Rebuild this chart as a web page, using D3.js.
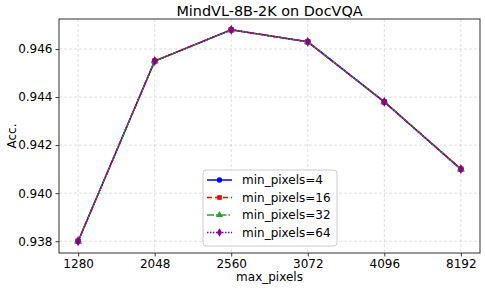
<!DOCTYPE html>
<meta charset="utf-8">
<head>
    <title>MindVL-8B-2K on DocVQA</title>
    <style>
        html, body { margin: 0; padding: 0; background: #fff; }
        body { font-family: "DejaVu Sans", sans-serif; }
        .grid line { stroke: #b0b0b0; stroke-opacity: 0.5; stroke-dasharray: 3,2; stroke-width: 0.8; }
        .axis path, .axis line { stroke: #333; }
        .axis text { font-family: "DejaVu Sans", sans-serif; font-size: 12px; fill: #000; }
    </style>
</head>
<body>
    <svg id="chart" width="485" height="289"></svg>
    <script src="https://cdn.jsdelivr.net/npm/d3@7"></script>
    <script>
        const maxPixels = ['1280', '2048', '2560', '3072', '4096', '8192'];
        const yTicks = [0.938, 0.940, 0.942, 0.944, 0.946];

        const accMin4  = [0.9380, 0.9455, 0.9468, 0.9463, 0.9438, 0.9410];
        const accMin16 = [0.9380, 0.9455, 0.9468, 0.9463, 0.9438, 0.9410];
        const accMin32 = [0.9380, 0.9455, 0.9468, 0.9463, 0.9438, 0.9410];
        const accMin64 = [0.9380, 0.9455, 0.9468, 0.9463, 0.9438, 0.9410];

        const series = [
            {name: 'min_pixels=4',  values: accMin4,  color: '#0000ff', dash: null,      marker: d3.symbolCircle},
            {name: 'min_pixels=16', values: accMin16, color: '#ff0000', dash: '5,3',     marker: d3.symbolSquare},
            {name: 'min_pixels=32', values: accMin32, color: '#2ca02c', dash: '7,2,1.5,2', marker: d3.symbolTriangle},
            {name: 'min_pixels=64', values: accMin64, color: '#8b008b', dash: '1.5,1.5', marker: d3.symbolDiamond}
        ];

        const mLeft = 59, mRight = 480, mTop = 19, mBottom = 253;

        let svg = d3.select('#chart');

        let x = d3.scaleLinear().domain([-0.25, maxPixels.length - 0.75]).range([mLeft, mRight]);
        let y = d3.scaleLinear().domain([0.93751, 0.94725]).range([mBottom, mTop]);

        // grid
        let grid = svg.append('g').attr('class', 'grid');
        grid.selectAll('line.v').data(maxPixels).enter().append('line')
            .attr('x1', (d, i) => x(i)).attr('x2', (d, i) => x(i))
            .attr('y1', mTop).attr('y2', mBottom);
        grid.selectAll('line.h').data(yTicks).enter().append('line')
            .attr('x1', mLeft).attr('x2', mRight)
            .attr('y1', d => y(d)).attr('y2', d => y(d));

        // axes
        svg.append('g').attr('class', 'axis')
            .attr('transform', 'translate(0,' + mBottom + ')')
            .call(d3.axisBottom(x).tickValues(d3.range(maxPixels.length))
                .tickFormat(i => maxPixels[i]).tickSize(3.5).tickPadding(3).tickSizeOuter(0))
            .call(g => g.select('.domain').remove());
        svg.append('g').attr('class', 'axis')
            .attr('transform', 'translate(' + mLeft + ',0)')
            .call(d3.axisLeft(y).tickValues(yTicks).tickFormat(d3.format('.3f'))
                .tickSize(3.5).tickPadding(3).tickSizeOuter(0))
            .call(g => g.select('.domain').remove());

        svg.append('rect')
            .attr('x', mLeft).attr('y', mTop)
            .attr('width', mRight - mLeft).attr('height', mBottom - mTop)
            .attr('fill', 'none').attr('stroke', '#333').attr('stroke-width', 1);

        // lines and markers
        let line = d3.line().x((d, i) => x(i)).y(d => y(d));
        series.forEach(s => {
            let g = svg.append('g');
            g.append('path')
                .datum(s.values)
                .attr('d', line)
                .attr('fill', 'none')
                .attr('stroke', s.color)
                .attr('stroke-width', 1.5)
                .attr('stroke-dasharray', s.dash);
            g.selectAll('path.m').data(s.values).enter().append('path')
                .attr('d', d3.symbol().type(s.marker).size(28))
                .attr('transform', (d, i) => 'translate(' + x(i) + ',' + y(d) + ')')
                .attr('fill', s.color);
        });

        // title and labels
        svg.append('text')
            .attr('x', (mLeft + mRight) / 2).attr('y', 15.5)
            .attr('text-anchor', 'middle')
            .style('font-size', '14.4px')
            .text('MindVL-8B-2K on DocVQA');
        svg.append('text')
            .attr('x', (mLeft + mRight) / 2).attr('y', 280.5)
            .attr('text-anchor', 'middle')
            .style('font-size', '12px')
            .text('max_pixels');
        svg.append('text')
            .attr('transform', 'translate(16,' + ((mTop + mBottom) / 2) + ') rotate(-90)')
            .attr('text-anchor', 'middle')
            .style('font-size', '12px')
            .text('Acc.');

        // legend
        let legend = svg.append('g').attr('transform', 'translate(203,170)');
        legend.append('rect')
            .attr('width', 134).attr('height', 76).attr('rx', 3)
            .attr('fill', '#fff').attr('fill-opacity', 0.8)
            .attr('stroke', '#ccc');
        series.forEach((s, i) => {
            let row = legend.append('g').attr('transform', 'translate(0,' + (10 + i * 17.5) + ')');
            row.append('line')
                .attr('x1', 4).attr('x2', 29)
                .attr('stroke', s.color).attr('stroke-width', 1.5)
                .attr('stroke-dasharray', s.dash);
            row.append('path')
                .attr('d', d3.symbol().type(s.marker).size(22))
                .attr('transform', 'translate(16.5,0)')
                .attr('fill', s.color);
            row.append('text')
                .attr('x', 39).attr('dy', '0.35em')
                .style('font-size', '12px')
                .text(s.name);
        });
    </script>
</body>
</html>
